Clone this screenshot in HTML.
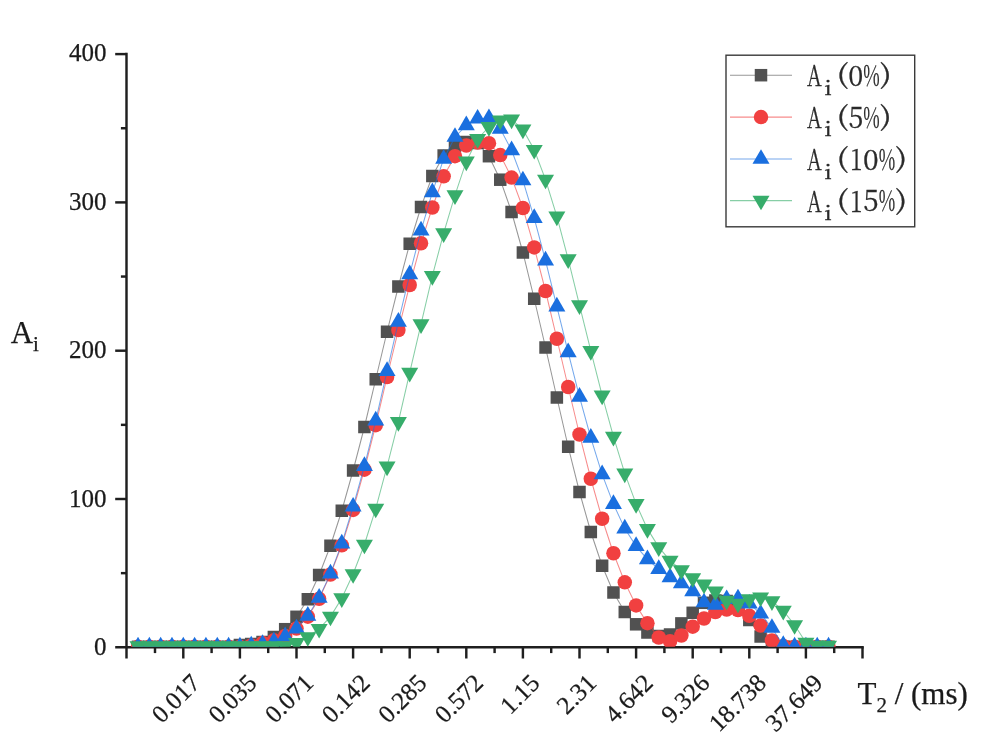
<!DOCTYPE html>
<html lang="en"><head><meta charset="utf-8"><title>T2 distribution</title>
<style>
html,body{margin:0;padding:0;background:#fff;}
body{width:1000px;height:748px;overflow:hidden;}
svg{display:block;filter:blur(0.55px);}
text{font-family:"Liberation Serif","Noto Serif CJK SC",serif;fill:#1a1a1a;stroke:#1a1a1a;stroke-width:0.25px;}
.tk{font-size:25px;}
.lg{font-family:"Noto Serif CJK SC","Liberation Serif",serif;font-weight:400;fill:#2a2a2a;stroke:#2a2a2a;stroke-width:0.3px;vector-effect:non-scaling-stroke;}
</style></head><body>
<svg width="1000" height="748" viewBox="0 0 1000 748">
<rect width="1000" height="748" fill="#fff"/>
<defs><clipPath id="cp"><rect x="126" y="40" width="760" height="606.8"/></clipPath></defs>

<g stroke="#1f1f1f" stroke-width="2.45" fill="none">
<path d="M126.5 52.8V658.5"/>
<path d="M115.2 647.3H863.8"/>
<path d="M120.9 573.15H126.5"/>
<path d="M115.2 499.00H126.5"/>
<path d="M120.9 424.85H126.5"/>
<path d="M115.2 350.70H126.5"/>
<path d="M120.9 276.55H126.5"/>
<path d="M115.2 202.40H126.5"/>
<path d="M120.9 128.25H126.5"/>
<path d="M115.2 54.10H126.5"/>
<path d="M155.00 647.3V653.1"/>
<path d="M183.30 647.3V658.5"/>
<path d="M211.60 647.3V653.1"/>
<path d="M239.90 647.3V658.5"/>
<path d="M268.20 647.3V653.1"/>
<path d="M296.50 647.3V658.5"/>
<path d="M324.80 647.3V653.1"/>
<path d="M353.10 647.3V658.5"/>
<path d="M381.40 647.3V653.1"/>
<path d="M409.70 647.3V658.5"/>
<path d="M438.00 647.3V653.1"/>
<path d="M466.30 647.3V658.5"/>
<path d="M494.60 647.3V653.1"/>
<path d="M522.90 647.3V658.5"/>
<path d="M551.20 647.3V653.1"/>
<path d="M579.50 647.3V658.5"/>
<path d="M607.80 647.3V653.1"/>
<path d="M636.10 647.3V658.5"/>
<path d="M664.40 647.3V653.1"/>
<path d="M692.70 647.3V658.5"/>
<path d="M721.00 647.3V653.1"/>
<path d="M749.30 647.3V658.5"/>
<path d="M777.60 647.3V653.1"/>
<path d="M805.90 647.3V658.5"/>
<path d="M834.20 647.3V653.1"/>
<path d="M862.50 647.3V658.5"/>
</g>
<g clip-path="url(#cp)">
<polyline points="138.02,646.80 149.34,646.80 160.66,646.80 171.98,646.80 183.30,646.80 194.62,646.80 205.94,646.80 217.26,646.80 228.58,646.80 239.90,645.00 251.22,644.00 262.54,642.00 273.86,637.00 285.18,629.20 296.50,616.80 307.82,599.25 319.14,575.00 330.46,545.75 341.78,510.75 353.10,470.50 364.42,427.00 375.74,379.25 387.06,331.75 398.38,286.50 409.70,243.75 421.02,207.00 432.34,176.00 443.66,155.50 454.98,146.00 466.30,142.00 477.62,143.00 488.94,156.20 500.26,179.70 511.58,212.00 522.90,252.50 534.22,298.75 545.54,347.50 556.86,397.50 568.18,446.75 579.50,492.00 590.82,532.00 602.14,565.75 613.46,592.50 624.78,612.00 636.10,624.30 647.42,632.50 658.74,636.00 670.06,634.50 681.38,623.40 692.70,612.80 704.02,602.80 715.34,600.50 726.66,601.00 737.98,607.00 749.30,620.00 760.62,636.50 771.94,645.00 783.26,646.80 794.58,646.80 805.90,646.80 817.22,646.80 828.54,646.80" fill="none" stroke="#515151" stroke-width="1.05" stroke-opacity="0.6"/>
<g fill="#515151"><rect x="131.77" y="640.55" width="12.5" height="12.5"/><rect x="143.09" y="640.55" width="12.5" height="12.5"/><rect x="154.41" y="640.55" width="12.5" height="12.5"/><rect x="165.73" y="640.55" width="12.5" height="12.5"/><rect x="177.05" y="640.55" width="12.5" height="12.5"/><rect x="188.37" y="640.55" width="12.5" height="12.5"/><rect x="199.69" y="640.55" width="12.5" height="12.5"/><rect x="211.01" y="640.55" width="12.5" height="12.5"/><rect x="222.33" y="640.55" width="12.5" height="12.5"/><rect x="233.65" y="638.75" width="12.5" height="12.5"/><rect x="244.97" y="637.75" width="12.5" height="12.5"/><rect x="256.29" y="635.75" width="12.5" height="12.5"/><rect x="267.61" y="630.75" width="12.5" height="12.5"/><rect x="278.93" y="622.95" width="12.5" height="12.5"/><rect x="290.25" y="610.55" width="12.5" height="12.5"/><rect x="301.57" y="593.00" width="12.5" height="12.5"/><rect x="312.89" y="568.75" width="12.5" height="12.5"/><rect x="324.21" y="539.50" width="12.5" height="12.5"/><rect x="335.53" y="504.50" width="12.5" height="12.5"/><rect x="346.85" y="464.25" width="12.5" height="12.5"/><rect x="358.17" y="420.75" width="12.5" height="12.5"/><rect x="369.49" y="373.00" width="12.5" height="12.5"/><rect x="380.81" y="325.50" width="12.5" height="12.5"/><rect x="392.13" y="280.25" width="12.5" height="12.5"/><rect x="403.45" y="237.50" width="12.5" height="12.5"/><rect x="414.77" y="200.75" width="12.5" height="12.5"/><rect x="426.09" y="169.75" width="12.5" height="12.5"/><rect x="437.41" y="149.25" width="12.5" height="12.5"/><rect x="448.73" y="139.75" width="12.5" height="12.5"/><rect x="460.05" y="135.75" width="12.5" height="12.5"/><rect x="471.37" y="136.75" width="12.5" height="12.5"/><rect x="482.69" y="149.95" width="12.5" height="12.5"/><rect x="494.01" y="173.45" width="12.5" height="12.5"/><rect x="505.33" y="205.75" width="12.5" height="12.5"/><rect x="516.65" y="246.25" width="12.5" height="12.5"/><rect x="527.97" y="292.50" width="12.5" height="12.5"/><rect x="539.29" y="341.25" width="12.5" height="12.5"/><rect x="550.61" y="391.25" width="12.5" height="12.5"/><rect x="561.93" y="440.50" width="12.5" height="12.5"/><rect x="573.25" y="485.75" width="12.5" height="12.5"/><rect x="584.57" y="525.75" width="12.5" height="12.5"/><rect x="595.89" y="559.50" width="12.5" height="12.5"/><rect x="607.21" y="586.25" width="12.5" height="12.5"/><rect x="618.53" y="605.75" width="12.5" height="12.5"/><rect x="629.85" y="618.05" width="12.5" height="12.5"/><rect x="641.17" y="626.25" width="12.5" height="12.5"/><rect x="652.49" y="629.75" width="12.5" height="12.5"/><rect x="663.81" y="628.25" width="12.5" height="12.5"/><rect x="675.13" y="617.15" width="12.5" height="12.5"/><rect x="686.45" y="606.55" width="12.5" height="12.5"/><rect x="697.77" y="596.55" width="12.5" height="12.5"/><rect x="709.09" y="594.25" width="12.5" height="12.5"/><rect x="720.41" y="594.75" width="12.5" height="12.5"/><rect x="731.73" y="600.75" width="12.5" height="12.5"/><rect x="743.05" y="613.75" width="12.5" height="12.5"/><rect x="754.37" y="630.25" width="12.5" height="12.5"/><rect x="765.69" y="638.75" width="12.5" height="12.5"/><rect x="777.01" y="640.55" width="12.5" height="12.5"/><rect x="788.33" y="640.55" width="12.5" height="12.5"/><rect x="799.65" y="640.55" width="12.5" height="12.5"/><rect x="810.97" y="640.55" width="12.5" height="12.5"/><rect x="822.29" y="640.55" width="12.5" height="12.5"/></g>
<polyline points="138.02,646.80 149.34,646.80 160.66,646.80 171.98,646.80 183.30,646.80 194.62,646.80 205.94,646.80 217.26,646.80 228.58,646.80 239.90,646.80 251.22,645.50 262.54,643.00 273.86,640.30 285.18,636.00 296.50,628.60 307.82,616.70 319.14,598.80 330.46,574.50 341.78,545.30 353.10,509.90 364.42,469.70 375.74,425.20 387.06,377.00 398.38,330.00 409.70,285.00 421.02,243.25 432.34,207.50 443.66,176.30 454.98,156.20 466.30,145.50 477.62,142.50 488.94,143.20 500.26,155.10 511.58,177.60 522.90,208.00 534.22,247.40 545.54,291.00 556.86,338.75 568.18,387.00 579.50,434.50 590.82,478.75 602.14,518.75 613.46,553.25 624.78,582.30 636.10,605.40 647.42,623.20 658.74,637.50 670.06,641.25 681.38,635.50 692.70,626.70 704.02,618.50 715.34,612.00 726.66,609.50 737.98,610.00 749.30,615.80 760.62,625.50 771.94,640.40 783.26,646.00 794.58,646.80 805.90,646.80 817.22,646.80 828.54,646.80" fill="none" stroke="#F14040" stroke-width="1.05" stroke-opacity="0.6"/>
<g fill="#F14040"><circle cx="138.02" cy="646.80" r="7.25"/><circle cx="149.34" cy="646.80" r="7.25"/><circle cx="160.66" cy="646.80" r="7.25"/><circle cx="171.98" cy="646.80" r="7.25"/><circle cx="183.30" cy="646.80" r="7.25"/><circle cx="194.62" cy="646.80" r="7.25"/><circle cx="205.94" cy="646.80" r="7.25"/><circle cx="217.26" cy="646.80" r="7.25"/><circle cx="228.58" cy="646.80" r="7.25"/><circle cx="239.90" cy="646.80" r="7.25"/><circle cx="251.22" cy="645.50" r="7.25"/><circle cx="262.54" cy="643.00" r="7.25"/><circle cx="273.86" cy="640.30" r="7.25"/><circle cx="285.18" cy="636.00" r="7.25"/><circle cx="296.50" cy="628.60" r="7.25"/><circle cx="307.82" cy="616.70" r="7.25"/><circle cx="319.14" cy="598.80" r="7.25"/><circle cx="330.46" cy="574.50" r="7.25"/><circle cx="341.78" cy="545.30" r="7.25"/><circle cx="353.10" cy="509.90" r="7.25"/><circle cx="364.42" cy="469.70" r="7.25"/><circle cx="375.74" cy="425.20" r="7.25"/><circle cx="387.06" cy="377.00" r="7.25"/><circle cx="398.38" cy="330.00" r="7.25"/><circle cx="409.70" cy="285.00" r="7.25"/><circle cx="421.02" cy="243.25" r="7.25"/><circle cx="432.34" cy="207.50" r="7.25"/><circle cx="443.66" cy="176.30" r="7.25"/><circle cx="454.98" cy="156.20" r="7.25"/><circle cx="466.30" cy="145.50" r="7.25"/><circle cx="477.62" cy="142.50" r="7.25"/><circle cx="488.94" cy="143.20" r="7.25"/><circle cx="500.26" cy="155.10" r="7.25"/><circle cx="511.58" cy="177.60" r="7.25"/><circle cx="522.90" cy="208.00" r="7.25"/><circle cx="534.22" cy="247.40" r="7.25"/><circle cx="545.54" cy="291.00" r="7.25"/><circle cx="556.86" cy="338.75" r="7.25"/><circle cx="568.18" cy="387.00" r="7.25"/><circle cx="579.50" cy="434.50" r="7.25"/><circle cx="590.82" cy="478.75" r="7.25"/><circle cx="602.14" cy="518.75" r="7.25"/><circle cx="613.46" cy="553.25" r="7.25"/><circle cx="624.78" cy="582.30" r="7.25"/><circle cx="636.10" cy="605.40" r="7.25"/><circle cx="647.42" cy="623.20" r="7.25"/><circle cx="658.74" cy="637.50" r="7.25"/><circle cx="670.06" cy="641.25" r="7.25"/><circle cx="681.38" cy="635.50" r="7.25"/><circle cx="692.70" cy="626.70" r="7.25"/><circle cx="704.02" cy="618.50" r="7.25"/><circle cx="715.34" cy="612.00" r="7.25"/><circle cx="726.66" cy="609.50" r="7.25"/><circle cx="737.98" cy="610.00" r="7.25"/><circle cx="749.30" cy="615.80" r="7.25"/><circle cx="760.62" cy="625.50" r="7.25"/><circle cx="771.94" cy="640.40" r="7.25"/><circle cx="783.26" cy="646.00" r="7.25"/><circle cx="794.58" cy="646.80" r="7.25"/><circle cx="805.90" cy="646.80" r="7.25"/><circle cx="817.22" cy="646.80" r="7.25"/><circle cx="828.54" cy="646.80" r="7.25"/></g>
<polyline points="138.02,646.60 149.34,646.60 160.66,646.60 171.98,646.60 183.30,646.60 194.62,646.60 205.94,646.60 217.26,646.60 228.58,646.60 239.90,646.60 251.22,645.60 262.54,644.00 273.86,641.60 285.18,636.30 296.50,628.60 307.82,615.80 319.14,597.85 330.46,573.60 341.78,543.60 353.10,506.75 364.42,466.10 375.74,420.60 387.06,371.10 398.38,321.85 409.70,274.35 421.02,230.60 432.34,192.30 443.66,158.90 454.98,137.00 466.30,125.30 477.62,118.70 488.94,118.20 500.26,128.80 511.58,150.30 522.90,180.40 534.22,218.10 545.54,260.60 556.86,306.60 568.18,352.35 579.50,396.85 590.82,437.85 602.14,474.35 613.46,504.10 624.78,528.60 636.10,546.10 647.42,559.35 658.74,569.10 670.06,577.35 681.38,583.50 692.70,591.50 704.02,602.50 715.34,604.80 726.66,599.20 737.98,598.50 749.30,603.70 760.62,613.70 771.94,628.00 783.26,645.00 794.58,646.60 805.90,646.60 817.22,646.60 828.54,646.60" fill="none" stroke="#1A6FDF" stroke-width="1.05" stroke-opacity="0.6"/>
<g fill="#1A6FDF"><path d="M138.02 636.87L146.52 651.47H129.52Z"/><path d="M149.34 636.87L157.84 651.47H140.84Z"/><path d="M160.66 636.87L169.16 651.47H152.16Z"/><path d="M171.98 636.87L180.48 651.47H163.48Z"/><path d="M183.30 636.87L191.80 651.47H174.80Z"/><path d="M194.62 636.87L203.12 651.47H186.12Z"/><path d="M205.94 636.87L214.44 651.47H197.44Z"/><path d="M217.26 636.87L225.76 651.47H208.76Z"/><path d="M228.58 636.87L237.08 651.47H220.08Z"/><path d="M239.90 636.87L248.40 651.47H231.40Z"/><path d="M251.22 635.87L259.72 650.47H242.72Z"/><path d="M262.54 634.27L271.04 648.87H254.04Z"/><path d="M273.86 631.87L282.36 646.47H265.36Z"/><path d="M285.18 626.57L293.68 641.17H276.68Z"/><path d="M296.50 618.87L305.00 633.47H288.00Z"/><path d="M307.82 606.07L316.32 620.67H299.32Z"/><path d="M319.14 588.12L327.64 602.72H310.64Z"/><path d="M330.46 563.87L338.96 578.47H321.96Z"/><path d="M341.78 533.87L350.28 548.47H333.28Z"/><path d="M353.10 497.02L361.60 511.62H344.60Z"/><path d="M364.42 456.37L372.92 470.97H355.92Z"/><path d="M375.74 410.87L384.24 425.47H367.24Z"/><path d="M387.06 361.37L395.56 375.97H378.56Z"/><path d="M398.38 312.12L406.88 326.72H389.88Z"/><path d="M409.70 264.62L418.20 279.22H401.20Z"/><path d="M421.02 220.87L429.52 235.47H412.52Z"/><path d="M432.34 182.57L440.84 197.17H423.84Z"/><path d="M443.66 149.17L452.16 163.77H435.16Z"/><path d="M454.98 127.27L463.48 141.87H446.48Z"/><path d="M466.30 115.57L474.80 130.17H457.80Z"/><path d="M477.62 108.97L486.12 123.57H469.12Z"/><path d="M488.94 108.47L497.44 123.07H480.44Z"/><path d="M500.26 119.07L508.76 133.67H491.76Z"/><path d="M511.58 140.57L520.08 155.17H503.08Z"/><path d="M522.90 170.67L531.40 185.27H514.40Z"/><path d="M534.22 208.37L542.72 222.97H525.72Z"/><path d="M545.54 250.87L554.04 265.47H537.04Z"/><path d="M556.86 296.87L565.36 311.47H548.36Z"/><path d="M568.18 342.62L576.68 357.22H559.68Z"/><path d="M579.50 387.12L588.00 401.72H571.00Z"/><path d="M590.82 428.12L599.32 442.72H582.32Z"/><path d="M602.14 464.62L610.64 479.22H593.64Z"/><path d="M613.46 494.37L621.96 508.97H604.96Z"/><path d="M624.78 518.87L633.28 533.47H616.28Z"/><path d="M636.10 536.37L644.60 550.97H627.60Z"/><path d="M647.42 549.62L655.92 564.22H638.92Z"/><path d="M658.74 559.37L667.24 573.97H650.24Z"/><path d="M670.06 567.62L678.56 582.22H661.56Z"/><path d="M681.38 573.77L689.88 588.37H672.88Z"/><path d="M692.70 581.77L701.20 596.37H684.20Z"/><path d="M704.02 592.77L712.52 607.37H695.52Z"/><path d="M715.34 595.07L723.84 609.67H706.84Z"/><path d="M726.66 589.47L735.16 604.07H718.16Z"/><path d="M737.98 588.77L746.48 603.37H729.48Z"/><path d="M749.30 593.97L757.80 608.57H740.80Z"/><path d="M760.62 603.97L769.12 618.57H752.12Z"/><path d="M771.94 618.27L780.44 632.87H763.44Z"/><path d="M783.26 635.27L791.76 649.87H774.76Z"/><path d="M794.58 636.87L803.08 651.47H786.08Z"/><path d="M805.90 636.87L814.40 651.47H797.40Z"/><path d="M817.22 636.87L825.72 651.47H808.72Z"/><path d="M828.54 636.87L837.04 651.47H820.04Z"/></g>
<polyline points="138.02,646.00 149.34,646.00 160.66,646.00 171.98,646.00 183.30,646.00 194.62,646.00 205.94,646.00 217.26,646.00 228.58,646.00 239.90,646.00 251.22,646.00 262.54,646.00 273.86,646.00 285.18,646.00 296.50,642.80 307.82,637.00 319.14,628.80 330.46,616.60 341.78,598.20 353.10,574.00 364.42,544.50 375.74,508.60 387.06,466.40 398.38,421.90 409.70,372.65 421.02,324.15 432.34,275.90 443.66,233.15 454.98,195.20 466.30,161.45 477.62,138.95 488.94,126.90 500.26,120.30 511.58,119.45 522.90,129.40 534.22,149.80 545.54,179.60 556.86,216.40 568.18,259.15 579.50,305.15 590.82,350.90 602.14,395.40 613.46,436.65 624.78,473.40 636.10,503.90 647.42,528.90 658.74,547.15 670.06,560.65 681.38,570.15 692.70,578.00 704.02,584.45 715.34,591.30 726.66,600.50 737.98,603.50 749.30,599.10 760.62,597.30 771.94,601.20 783.26,610.70 794.58,625.00 805.90,642.50 817.22,645.50 828.54,645.50" fill="none" stroke="#37AD6B" stroke-width="1.05" stroke-opacity="0.6"/>
<g fill="#37AD6B"><path d="M138.02 655.73L146.52 641.13H129.52Z"/><path d="M149.34 655.73L157.84 641.13H140.84Z"/><path d="M160.66 655.73L169.16 641.13H152.16Z"/><path d="M171.98 655.73L180.48 641.13H163.48Z"/><path d="M183.30 655.73L191.80 641.13H174.80Z"/><path d="M194.62 655.73L203.12 641.13H186.12Z"/><path d="M205.94 655.73L214.44 641.13H197.44Z"/><path d="M217.26 655.73L225.76 641.13H208.76Z"/><path d="M228.58 655.73L237.08 641.13H220.08Z"/><path d="M239.90 655.73L248.40 641.13H231.40Z"/><path d="M251.22 655.73L259.72 641.13H242.72Z"/><path d="M262.54 655.73L271.04 641.13H254.04Z"/><path d="M273.86 655.73L282.36 641.13H265.36Z"/><path d="M285.18 655.73L293.68 641.13H276.68Z"/><path d="M296.50 652.53L305.00 637.93H288.00Z"/><path d="M307.82 646.73L316.32 632.13H299.32Z"/><path d="M319.14 638.53L327.64 623.93H310.64Z"/><path d="M330.46 626.33L338.96 611.73H321.96Z"/><path d="M341.78 607.93L350.28 593.33H333.28Z"/><path d="M353.10 583.73L361.60 569.13H344.60Z"/><path d="M364.42 554.23L372.92 539.63H355.92Z"/><path d="M375.74 518.33L384.24 503.73H367.24Z"/><path d="M387.06 476.13L395.56 461.53H378.56Z"/><path d="M398.38 431.63L406.88 417.03H389.88Z"/><path d="M409.70 382.38L418.20 367.78H401.20Z"/><path d="M421.02 333.88L429.52 319.28H412.52Z"/><path d="M432.34 285.63L440.84 271.03H423.84Z"/><path d="M443.66 242.88L452.16 228.28H435.16Z"/><path d="M454.98 204.93L463.48 190.33H446.48Z"/><path d="M466.30 171.18L474.80 156.58H457.80Z"/><path d="M477.62 148.68L486.12 134.08H469.12Z"/><path d="M488.94 136.63L497.44 122.03H480.44Z"/><path d="M500.26 130.03L508.76 115.43H491.76Z"/><path d="M511.58 129.18L520.08 114.58H503.08Z"/><path d="M522.90 139.13L531.40 124.53H514.40Z"/><path d="M534.22 159.53L542.72 144.93H525.72Z"/><path d="M545.54 189.33L554.04 174.73H537.04Z"/><path d="M556.86 226.13L565.36 211.53H548.36Z"/><path d="M568.18 268.88L576.68 254.28H559.68Z"/><path d="M579.50 314.88L588.00 300.28H571.00Z"/><path d="M590.82 360.63L599.32 346.03H582.32Z"/><path d="M602.14 405.13L610.64 390.53H593.64Z"/><path d="M613.46 446.38L621.96 431.78H604.96Z"/><path d="M624.78 483.13L633.28 468.53H616.28Z"/><path d="M636.10 513.63L644.60 499.03H627.60Z"/><path d="M647.42 538.63L655.92 524.03H638.92Z"/><path d="M658.74 556.88L667.24 542.28H650.24Z"/><path d="M670.06 570.38L678.56 555.78H661.56Z"/><path d="M681.38 579.88L689.88 565.28H672.88Z"/><path d="M692.70 587.73L701.20 573.13H684.20Z"/><path d="M704.02 594.18L712.52 579.58H695.52Z"/><path d="M715.34 601.03L723.84 586.43H706.84Z"/><path d="M726.66 610.23L735.16 595.63H718.16Z"/><path d="M737.98 613.23L746.48 598.63H729.48Z"/><path d="M749.30 608.83L757.80 594.23H740.80Z"/><path d="M760.62 607.03L769.12 592.43H752.12Z"/><path d="M771.94 610.93L780.44 596.33H763.44Z"/><path d="M783.26 620.43L791.76 605.83H774.76Z"/><path d="M794.58 634.73L803.08 620.13H786.08Z"/><path d="M805.90 652.23L814.40 637.63H797.40Z"/><path d="M817.22 655.23L825.72 640.63H808.72Z"/><path d="M828.54 655.23L837.04 640.63H820.04Z"/></g>
</g>
<text class="tk" x="106.5" y="655.1" text-anchor="end">0</text>
<text class="tk" x="106.5" y="506.6" text-anchor="end">100</text>
<text class="tk" x="106.5" y="358.0" text-anchor="end">200</text>
<text class="tk" x="106.5" y="209.5" text-anchor="end">300</text>
<text class="tk" x="106.5" y="60.9" text-anchor="end">400</text>
<text class="tk xl" transform="translate(201.6 684.5) rotate(-45)" text-anchor="end" font-size="26">0.017</text>
<text class="tk xl" transform="translate(258.2 684.5) rotate(-45)" text-anchor="end" font-size="26">0.035</text>
<text class="tk xl" transform="translate(314.8 684.5) rotate(-45)" text-anchor="end" font-size="26">0.071</text>
<text class="tk xl" transform="translate(371.4 684.5) rotate(-45)" text-anchor="end" font-size="26">0.142</text>
<text class="tk xl" transform="translate(428.0 684.5) rotate(-45)" text-anchor="end" font-size="26">0.285</text>
<text class="tk xl" transform="translate(484.6 684.5) rotate(-45)" text-anchor="end" font-size="26">0.572</text>
<text class="tk xl" transform="translate(541.2 684.5) rotate(-45)" text-anchor="end" font-size="26">1.15</text>
<text class="tk xl" transform="translate(597.8 684.5) rotate(-45)" text-anchor="end" font-size="26">2.31</text>
<text class="tk xl" transform="translate(654.4 684.5) rotate(-45)" text-anchor="end" font-size="26">4.642</text>
<text class="tk xl" transform="translate(711.0 684.5) rotate(-45)" text-anchor="end" font-size="26">9.326</text>
<text class="tk xl" transform="translate(767.6 684.5) rotate(-45)" text-anchor="end" font-size="26">18.738</text>
<text class="tk xl" transform="translate(824.2 684.5) rotate(-45)" text-anchor="end" font-size="26">37.649</text>
<text x="10.7" y="343.2" font-size="31">A<tspan font-size="21" dy="8.2">i</tspan></text>
<text x="857.5" y="703.9" font-size="31">T<tspan font-size="21" dy="8.4">2</tspan><tspan dy="-8.4"> / (ms)</tspan></text>
<rect x="726" y="55.2" width="188.7" height="171.6" fill="#fff" stroke="#3a3a3a" stroke-width="1.4"/>
<path d="M730 75.2H792" stroke="#515151" stroke-width="1.05" stroke-opacity="0.6"/>
<g fill="#515151"><rect x="754.75" y="68.95" width="12.5" height="12.5"/></g>
<g><text class="lg" font-size="100" transform="translate(807.00 86.20) scale(0.2043 0.2836)">A</text><text class="lg" font-size="100" transform="translate(824.27 94.70) scale(0.2320 0.1961)">i</text><text class="lg" font-size="100" transform="translate(836.40 83.34) scale(0.3333 0.2602)">(</text><text class="lg" font-size="100" transform="translate(848.23 86.03) scale(0.2733 0.2851)">0</text><text class="lg" font-size="100" transform="translate(863.29 86.13) scale(0.1786 0.2842)">%</text><text class="lg" font-size="100" transform="translate(879.80 83.34) scale(0.3333 0.2602)">)</text></g>
<path d="M730 117.1H792" stroke="#F14040" stroke-width="1.05" stroke-opacity="0.6"/>
<g fill="#F14040"><circle cx="761.00" cy="117.10" r="7.25"/></g>
<g><text class="lg" font-size="100" transform="translate(807.00 127.80) scale(0.2043 0.2836)">A</text><text class="lg" font-size="100" transform="translate(824.27 136.30) scale(0.2320 0.1961)">i</text><text class="lg" font-size="100" transform="translate(836.40 124.94) scale(0.3333 0.2602)">(</text><text class="lg" font-size="100" transform="translate(848.53 127.61) scale(0.2674 0.2931)">5</text><text class="lg" font-size="100" transform="translate(863.29 127.73) scale(0.1786 0.2842)">%</text><text class="lg" font-size="100" transform="translate(879.80 124.94) scale(0.3333 0.2602)">)</text></g>
<path d="M730 158.9H792" stroke="#1A6FDF" stroke-width="1.05" stroke-opacity="0.6"/>
<g fill="#1A6FDF"><path d="M761.00 149.17L769.50 163.77H752.50Z"/></g>
<g><text class="lg" font-size="100" transform="translate(807.00 170.00) scale(0.2043 0.2836)">A</text><text class="lg" font-size="100" transform="translate(824.27 178.50) scale(0.2320 0.1961)">i</text><text class="lg" font-size="100" transform="translate(836.40 167.14) scale(0.3333 0.2602)">(</text><text class="lg" font-size="100" transform="translate(850.22 170.00) scale(0.2205 0.2901)">1</text><text class="lg" font-size="100" transform="translate(862.98 169.83) scale(0.2844 0.2851)">0</text><text class="lg" font-size="100" transform="translate(878.69 169.93) scale(0.1786 0.2842)">%</text><text class="lg" font-size="100" transform="translate(895.20 167.14) scale(0.3333 0.2602)">)</text></g>
<path d="M730 200.6H792" stroke="#37AD6B" stroke-width="1.05" stroke-opacity="0.6"/>
<g fill="#37AD6B"><path d="M761.00 210.33L769.50 195.73H752.50Z"/></g>
<g><text class="lg" font-size="100" transform="translate(807.00 211.50) scale(0.2043 0.2836)">A</text><text class="lg" font-size="100" transform="translate(824.27 220.00) scale(0.2320 0.1961)">i</text><text class="lg" font-size="100" transform="translate(836.40 208.64) scale(0.3333 0.2602)">(</text><text class="lg" font-size="100" transform="translate(850.22 211.50) scale(0.2205 0.2901)">1</text><text class="lg" font-size="100" transform="translate(863.29 211.31) scale(0.2783 0.2931)">5</text><text class="lg" font-size="100" transform="translate(878.69 211.43) scale(0.1786 0.2842)">%</text><text class="lg" font-size="100" transform="translate(895.20 208.64) scale(0.3333 0.2602)">)</text></g>
</svg></body></html>
